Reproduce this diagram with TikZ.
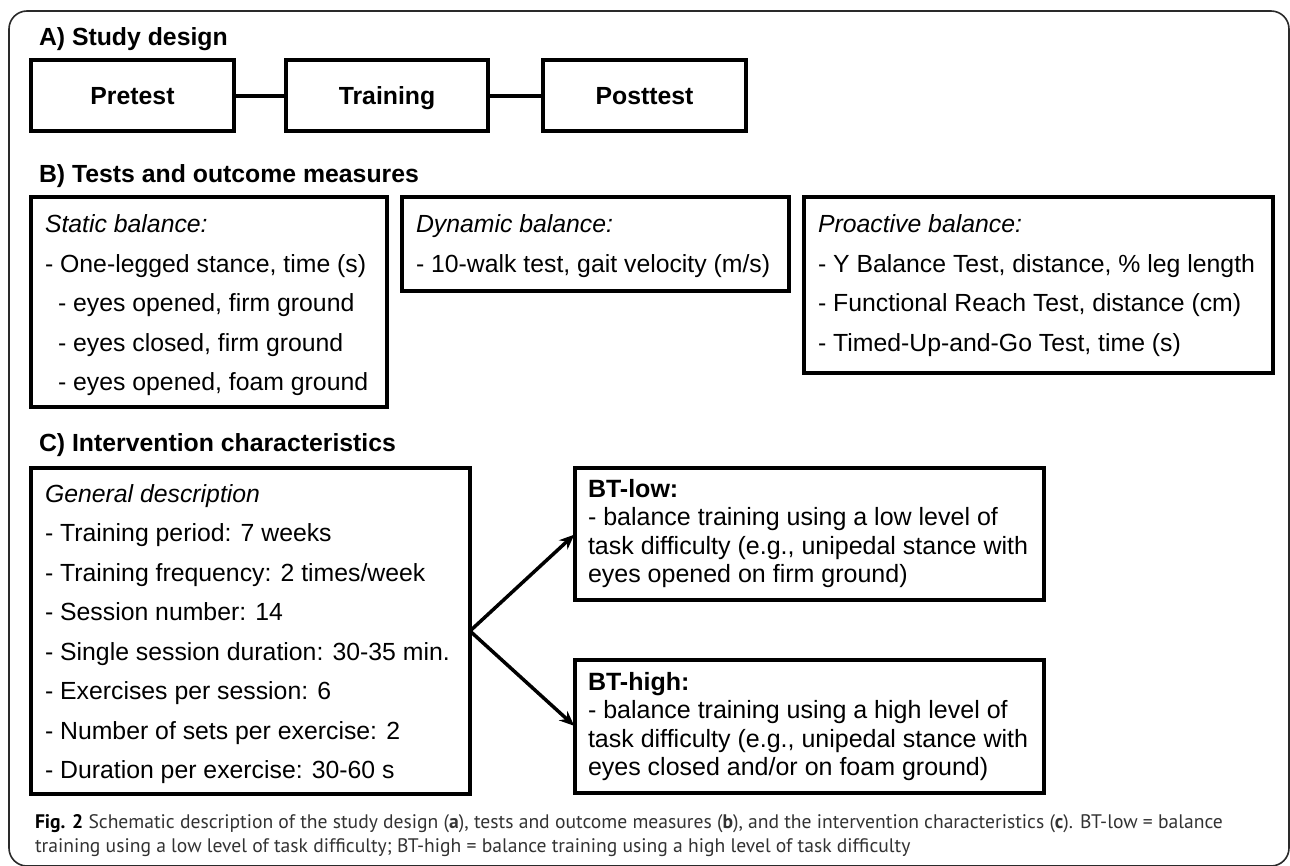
\documentclass[tikz,border=0pt]{standalone}
\usepackage{fontspec}
\setmainfont{Liberation Sans}
\newfontfamily\capfont{PT Sans}
\usetikzlibrary{arrows.meta}
\definecolor{capgray}{HTML}{333333}
\definecolor{framegray}{HTML}{2A2A2A}
\begin{document}
\begin{tikzpicture}[x=1pt,y=-1pt,
  box/.style={draw=black, line width=3.6pt, rectangle, inner sep=0pt, outer sep=0pt, anchor=north west},
  abox/.style={box, line width=4pt, font=\fontsize{24.8pt}{28pt}\selectfont\bfseries, text height=17.8pt, text depth=0pt},
  txt/.style={anchor=base west, inner sep=0pt, outer sep=0pt, font=\fontsize{24.8pt}{28pt}\selectfont},
  head/.style={txt, font=\fontsize{24.8pt}{28pt}\selectfont\bfseries},
  ital/.style={txt, font=\fontsize{24.8pt}{28pt}\selectfont\itshape},
  btxt/.style={txt, font=\fontsize{25pt}{28pt}\selectfont},
  bhead/.style={txt, font=\fontsize{25pt}{28pt}\selectfont\bfseries},
  captxt/.style={anchor=base west, inner sep=0pt, outer sep=0pt, text=capgray, font=\capfont\fontsize{19.6pt}{24pt}\selectfont},
  link/.style={line width=4pt},
  arr/.style={line width=3.5pt, -{Stealth[length=15pt,width=12.5pt]}, shorten >=1pt}
]
\useasboundingbox (0,0) rectangle (1290,866);
\fill[white] (0,0) rectangle (1290,866);
% outer frame
\draw[line width=1.6pt, draw=framegray, rounded corners=18pt] (9,11) rectangle (1289,866);

% A) Study design
\node[head] (ha) at (39,46) {A) Study design};
\node[abox, minimum width=203pt, minimum height=71.5pt] (pre) at (31,60) {Pretest};
\node[abox, minimum width=202pt, minimum height=71.5pt] (tra) at (286,60) {Training};
\node[abox, minimum width=203pt, minimum height=71.5pt] (post) at (543,60) {Posttest};
\draw[link] (pre.east) -- (tra.west);
\draw[link] (tra.east) -- (post.west);

% B) Tests and outcome measures
\node[head] (hb) at (39,183) {B) Tests and outcome measures};
\node[box, minimum width=356pt, minimum height=210pt] (stat) at (31,197) {};
\node[box, minimum width=387pt, minimum height=94pt] (dyn) at (402,197) {};
\node[box, minimum width=469pt, minimum height=176pt] (pro) at (804,197) {};

\node[ital] (s0) at (45,233) {Static balance:};
\node[txt] (s1) at (45,272.5) {- One-legged stance, time (s)};
\node[txt] (s2) at (58,312) {- eyes opened, firm ground};
\node[txt] (s3) at (58,351.5) {- eyes closed, firm ground};
\node[txt] (s4) at (58,391) {- eyes opened, foam ground};

\node[ital] (d0) at (416,233) {Dynamic balance:};
\node[txt] (d1) at (416,272.5) {- 10-walk test, gait velocity (m/s)};

\node[ital] (p0) at (818,233) {Proactive balance:};
\node[txt] (p1) at (818,272.5) {- Y Balance Test, distance, \% leg length};
\node[txt] (p2) at (818,312) {- Functional Reach Test, distance (cm)};
\node[txt] (p3) at (818,351.5) {- Timed-Up-and-Go Test, time (s)};

% C) Intervention characteristics
\node[head] (hc) at (39,451.5) {C) Intervention characteristics};
\node[box, minimum width=439pt, minimum height=326pt] (gen) at (31,468) {};
\node[box, minimum width=469pt, minimum height=132pt] (btl) at (575,468) {};
\node[box, minimum width=469pt, minimum height=133pt] (bth) at (575,660) {};

\node[ital] (g0) at (45,502) {General description};
\node[txt] (g1) at (45,541.5) {- Training period: 7 weeks};
\node[txt] (g2) at (45,581) {- Training frequency: 2 times/week};
\node[txt] (g3) at (45,620.5) {- Session number: 14};
\node[txt] (g4) at (45,660) {- Single session duration: 30-35 min.};
\node[txt] (g5) at (45,699.5) {- Exercises per session: 6};
\node[txt] (g6) at (45,739) {- Number of sets per exercise: 2};
\node[txt] (g7) at (45,778.5) {- Duration per exercise: 30-60 s};

\node[bhead] (l0) at (588,497) {BT-low:};
\node[btxt] (l1) at (588,525.5) {- balance training using a low level of};
\node[btxt] (l2) at (588,554) {task difficulty (e.g., unipedal stance with};
\node[btxt] (l3) at (588,582.5) {eyes opened on firm ground)};

\node[bhead] (h0) at (588,690) {BT-high:};
\node[btxt] (h1) at (588,718.5) {- balance training using a high level of};
\node[btxt] (h2) at (588,747) {task difficulty (e.g., unipedal stance with};
\node[btxt] (h3) at (588,775.5) {eyes closed and/or on foam ground)};

\draw[arr] (gen.east) -- (btl.west);
\draw[arr] (gen.east) -- (bth.west);

% caption
\node[captxt] (c1) at (35,828) {\textbf{\color{black}Fig. 2} Schematic description of the study design (\textbf{a}), tests and outcome measures (\textbf{b}), and the intervention characteristics (\textbf{c}). BT-low = balance};
\node[captxt] (c2) at (35,852) {training using a low level of task difficulty; BT-high = balance training using a high level of task difficulty};
\end{tikzpicture}
\end{document}
